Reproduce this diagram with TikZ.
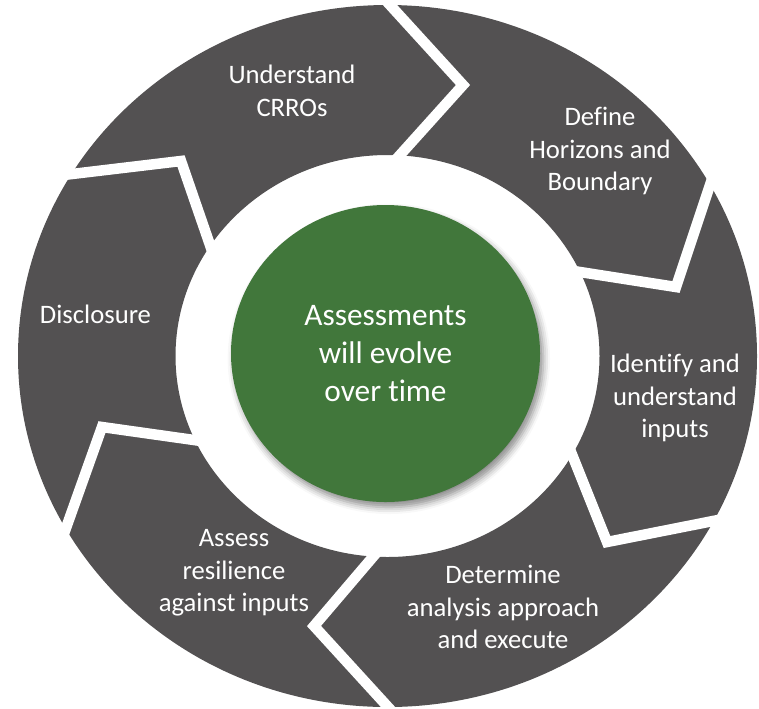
\documentclass[tikz,border=0pt]{standalone}
\usepackage{fontspec}
\setmainfont{Carlito}[Ligatures=NoCommon]
\usetikzlibrary{calc,shapes.geometric,shadows.blur}
\definecolor{ringgray}{RGB}{83,81,82}
\definecolor{hubgreen}{RGB}{65,119,59}
\begin{document}
\begin{tikzpicture}[x=0.75pt,y=-0.75pt,
  gapline/.style={draw=white,line width=7.9pt,line join=miter},
  seglabel/.style={text=white,align=center,inner sep=0pt,font=\fontsize{20}{24.5}\selectfont},
  hubstyle/.style={ellipse,fill=hubgreen,text=white,align=center,inner sep=0pt,
    minimum width=231.75pt,minimum height=222.75pt,
    font=\fontsize{23.5}{28.5}\selectfont,
    blur shadow={shadow xshift=2.5pt,shadow yshift=-4pt,shadow blur radius=5pt,shadow opacity=45}}]
\useasboundingbox (0,0) rectangle (759,708);
% ring
\fill[ringgray,even odd rule] (387.5,356) ellipse [x radius=369.5,y radius=351]
  (387.5,356) ellipse [x radius=212,y radius=201];
% gap geometry
\coordinate (g1o) at (390,5);   \coordinate (g1t) at (463,85);  \coordinate (g1i) at (400,155);
\coordinate (g2o) at (709,188); \coordinate (g2t) at (676,287); \coordinate (g2i) at (580,272);
\coordinate (g3o) at (713,521); \coordinate (g3t) at (607,542); \coordinate (g3i) at (573,457);
\coordinate (g4o) at (388,707); \coordinate (g4t) at (314,626); \coordinate (g4i) at (372,558);
\coordinate (g5o) at (66,528);  \coordinate (g5t) at (102,427); \coordinate (g5i) at (194,440);
\coordinate (g6o) at (72,174);  \coordinate (g6t) at (181,161); \coordinate (g6i) at (210,245);
\foreach \g in {1,...,6}{
  \draw[gapline] ($(g\g t)!1.25!(g\g o)$) -- (g\g t) -- ($(g\g t)!1.2!(g\g i)$);
}
% labels
\node[seglabel] (understand) at (292,91) {Understand\\CRROs};
\node[seglabel] (define) at (600,151) {Define\\Horizons and\\Boundary};
\node[seglabel] (identify) at (675,398) {Identify and\\understand\\inputs};
\node[seglabel] (determine) at (503,607) {Determine\\analysis approach\\and execute};
\node[seglabel] (assess) at (234,573) {Assess\\resilience\\against inputs};
\node[seglabel] (disclosure) at (95.5,314) {Disclosure};
% hub
\node[hubstyle] (hub) at (385.5,353.5) {Assessments\\will evolve\\over time};
\end{tikzpicture}
\end{document}
